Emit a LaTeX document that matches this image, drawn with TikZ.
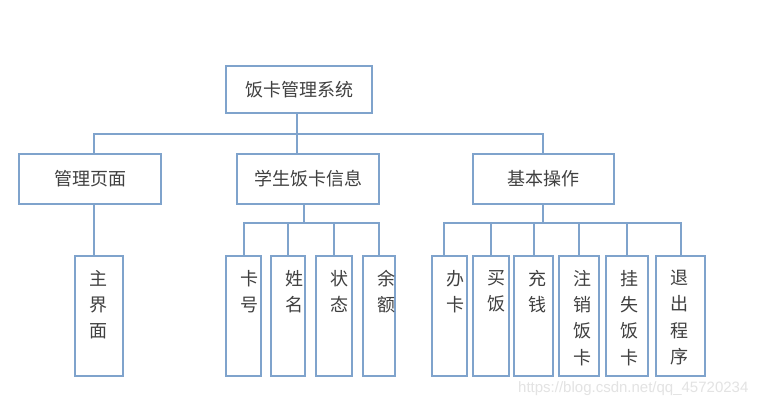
\documentclass[tikz,border=0pt]{standalone}
\usepackage{fontspec}
\usepackage{tikz}
\newfontfamily\cjk{Noto Sans CJK SC}
\newfontfamily\wmfont{Liberation Sans}
\definecolor{boxblue}{HTML}{7FA3CC}
\definecolor{txtgray}{HTML}{404040}
\newcommand\vlabel[2]{\parbox[c][120pt][t]{#1pt}{\leftskip=14pt\vspace*{14pt}#2}}

\begin{document}
\begin{tikzpicture}[x=1pt, y=-1pt,
    box/.style={draw=boxblue, line width=2pt, text=txtgray, font=\cjk\fontsize{18}{26.3}\selectfont, inner sep=0pt},
    headbox/.style={box, minimum width=142pt, minimum height=50pt},
    tallbox/.style={box, minimum height=120pt},
    link/.style={draw=boxblue, line width=2pt}]

        \useasboundingbox[fill=white] (0,0) rectangle (783,401);

        \node[headbox, minimum width=146pt, minimum height=47pt] (root) at (299,89.5) {饭卡管理系统};
        \node[headbox] (manage) at (90,179) {管理页面};
        \node[headbox] (info) at (308,179) {学生饭卡信息};
        \node[headbox, minimum width=141pt] (ops) at (543.5,179) {基本操作};

        \node[tallbox] (mainui) at (99,316) {\vlabel{48}{主\\界\\面}};

        \node[tallbox] (cardno) at (243.5,316) {\vlabel{35}{卡\\号}};
        \node[tallbox] (name) at (288,316) {\vlabel{34}{姓\\名}};
        \node[tallbox] (state) at (334,316) {\vlabel{36}{状\\态}};
        \node[tallbox] (balance) at (379,316) {\vlabel{32}{余\\额}};

        \node[tallbox] (open) at (449.5,316) {\vlabel{35}{办\\卡}};
        \node[tallbox] (buy) at (491,316) {\vlabel{36}{买\\饭}};
        \node[tallbox] (charge) at (533.5,316) {\vlabel{39}{充\\钱}};
        \node[tallbox] (cancel) at (579,316) {\vlabel{40}{注\\销\\饭\\卡}};
        \node[tallbox] (lost) at (627,316) {\vlabel{42}{挂\\失\\饭\\卡}};
        \node[tallbox] (quit) at (680.5,316) {\vlabel{49}{退\\出\\程\\序}};

        \coordinate (rootstem) at (297,134);
        \coordinate (topbusL) at (94,134);
        \coordinate (topbusR) at (543,134);
        \coordinate (infobus) at (304,223);
        \coordinate (opsbus) at (543,223);

        \draw[link] (root.south -| rootstem) -- (info.north -| rootstem);
        \draw[link] (manage.north -| topbusL) -- (topbusL) -- (topbusR) -- (ops.north -| topbusR);
        \draw[link] (manage.south -| topbusL) -- (mainui.north -| topbusL);

        \draw[link] (info.south -| infobus) -- (infobus);
        \draw[link] (cardno.north) -- (cardno.north |- infobus) -- (balance.north |- infobus) -- (balance.north);
        \draw[link] (name.north) -- (name.north |- infobus);
        \draw[link] (state.north) -- (state.north |- infobus);

        \draw[link] (ops.south -| opsbus) -- (opsbus);
        \draw[link] ([xshift=-5.5pt]open.north) -- ([xshift=-5.5pt]open.north |- opsbus) -- (quit.north |- opsbus) -- (quit.north);
        \draw[link] (buy.north) -- (buy.north |- opsbus);
        \draw[link] (charge.north) -- (charge.north |- opsbus);
        \draw[link] (cancel.north) -- (cancel.north |- opsbus);
        \draw[link] (lost.north) -- (lost.north |- opsbus);

        \node[text=gray!22, font=\wmfont\fontsize{15}{15}\selectfont, anchor=base west, inner sep=0pt] (mark) at (518,392) {https://blog.csdn.net/qq\_45720234};
    \end{tikzpicture}
\end{document}
